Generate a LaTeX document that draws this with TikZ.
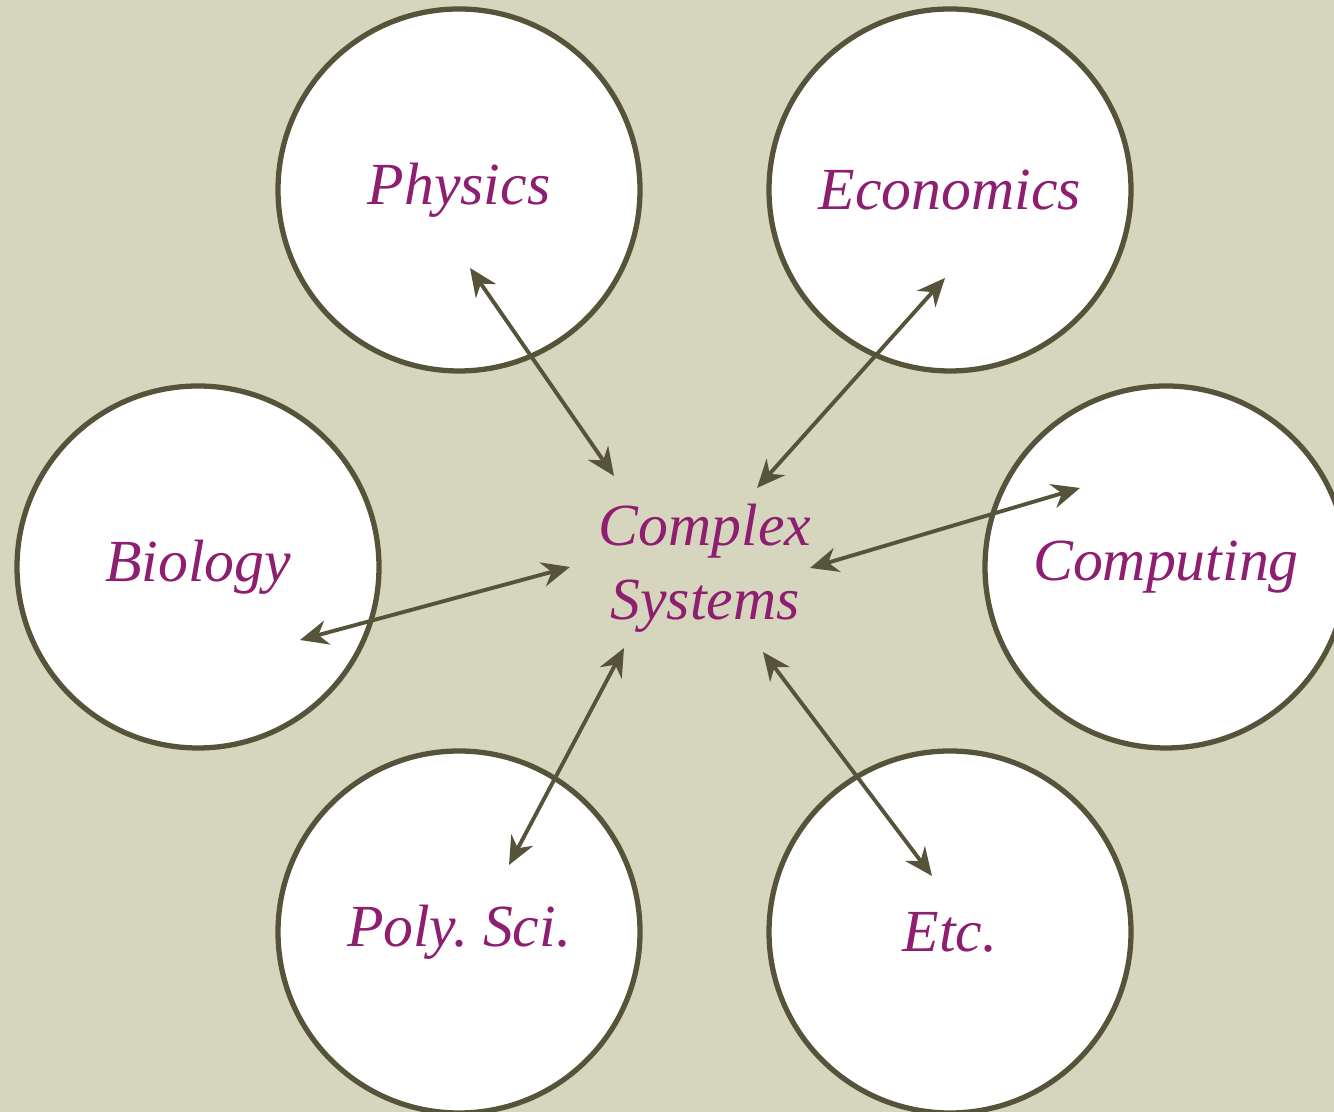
\documentclass[tikz,border=0pt]{standalone}
\usepackage{xcolor}
\usepackage{fontspec}
\setmainfont{Liberation Serif}
\usepackage{tikz}
\usetikzlibrary{arrows.meta, positioning, calc}

\definecolor{paper}{RGB}{214,213,189}
\definecolor{olive}{RGB}{85,83,58}
\definecolor{plum}{RGB}{142,30,112}

\tikzset{
    field/.style={circle, draw=olive, line width=1.5pt, fill=white, minimum size=3.62cm, inner sep=0pt,
        font=\fontsize{17}{21}\selectfont\itshape, text=plum},
    hub/.style={align=center, font=\fontsize{17}{21}\selectfont\itshape, text=plum},
    link/.style={{Stealth[length=8pt,width=7pt]}-{Stealth[length=8pt,width=7pt]}, draw=olive, line width=1.1pt}
}

\begin{document}
\begin{tikzpicture}
    % Background
    \fill[paper] (0,0) rectangle (13.34,11.12);
    \clip (0,0) rectangle (13.34,11.12);

    % Fields
    \node[field] (phys) at (4.59, 9.22) {Physics};
    \node[field] (econ) at (9.50, 9.22) {Economics};
    \node[field] (bio)  at (1.98, 5.45) {Biology};
    \node[field] (comp) at (11.66, 5.45) {Computing};
    \node[field] (poly) at (4.59, 1.80) {Poly.\ Sci.};
    \node[field] (etc)  at (9.50, 1.80) {Etc.};

    % Centre
    \node[hub] (cs) at (7.05, 5.44) {Complex\\Systems};

    % Arrow ends
    \coordinate (physA) at (4.70, 8.44);  \coordinate (physB) at (6.14, 6.36);
    \coordinate (econA) at (9.45, 8.34);  \coordinate (econB) at (7.57, 6.24);
    \coordinate (compA) at (10.80, 6.24); \coordinate (compB) at (8.10, 5.44);
    \coordinate (bioA)  at (3.00, 4.72);  \coordinate (bioB)  at (5.70, 5.45);
    \coordinate (polyA) at (5.09, 2.47);  \coordinate (polyB) at (6.24, 4.64);
    \coordinate (etcA)  at (9.32, 2.36);  \coordinate (etcB)  at (7.63, 4.60);

    % Links
    \draw[link] (physA) -- (physB);
    \draw[link] (econA) -- (econB);
    \draw[link] (compA) -- (compB);
    \draw[link] (bioA) -- (bioB);
    \draw[link] (polyA) -- (polyB);
    \draw[link] (etcA) -- (etcB);
\end{tikzpicture}
\end{document}
